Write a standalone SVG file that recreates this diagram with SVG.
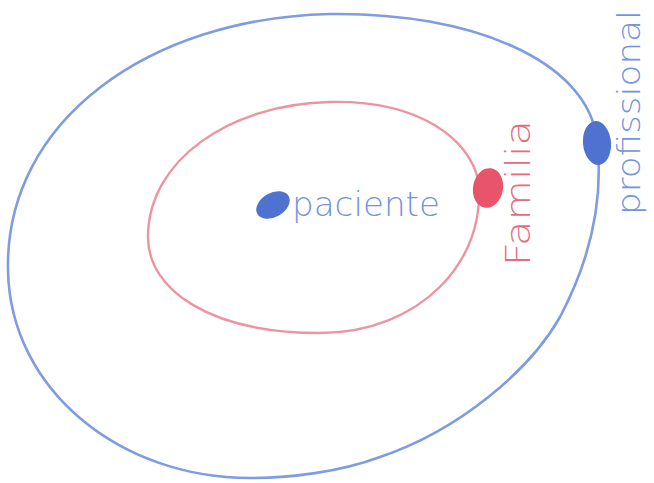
<svg xmlns="http://www.w3.org/2000/svg" width="654" height="483" viewBox="0 0 654 483">
<style>
.blue{fill:none;stroke:#7f9be2;stroke-width:2.6;stroke-linecap:round}
.red{fill:none;stroke:#ee93a2;stroke-width:2.4;stroke-linecap:round}
.lbl{font-family:"DejaVu Sans","Liberation Sans",sans-serif;font-weight:300}
.bt{fill:#7393dc}
.rt{fill:#e36d80}
</style>
<rect width="654" height="483" fill="#ffffff"/>
<g id="connectors">
<path class="blue" d="M330,14 C470,12 588,60 597,140 C604,200 590,260 560,317 C530,370 460,430 380,457 C340,472 290,478 250,478 C120,478 10,390 8,270 C5,120 150,18 330,14 Z"/>
<path class="red" d="M330,102 C420,100 470,140 478,180 C488,260 420,333 320,333 C210,333 148,290 148,237 C148,160 230,104 330,102 Z"/>
</g>
<g id="paciente">
<ellipse cx="273" cy="205" rx="18" ry="12" transform="rotate(-30 273 205)" fill="#4f72d0"/>
<text class="lbl bt" x="292" y="216" font-size="34" textLength="148" lengthAdjust="spacingAndGlyphs">paciente</text>
</g>
<g id="familia">
<ellipse cx="488" cy="188" rx="15" ry="20" transform="rotate(10 488 188)" fill="#e8556a"/>
<text class="lbl rt" transform="translate(530 266) rotate(-90)" font-size="33" textLength="146" lengthAdjust="spacingAndGlyphs">Familia</text>
</g>
<g id="profissional">
<ellipse cx="597" cy="143" rx="14" ry="22" transform="rotate(-5 597 143)" fill="#4f72d0"/>
<text class="lbl bt" transform="translate(640 215) rotate(-90)" font-size="32" textLength="205" lengthAdjust="spacingAndGlyphs">profissional</text>
</g>
</svg>
